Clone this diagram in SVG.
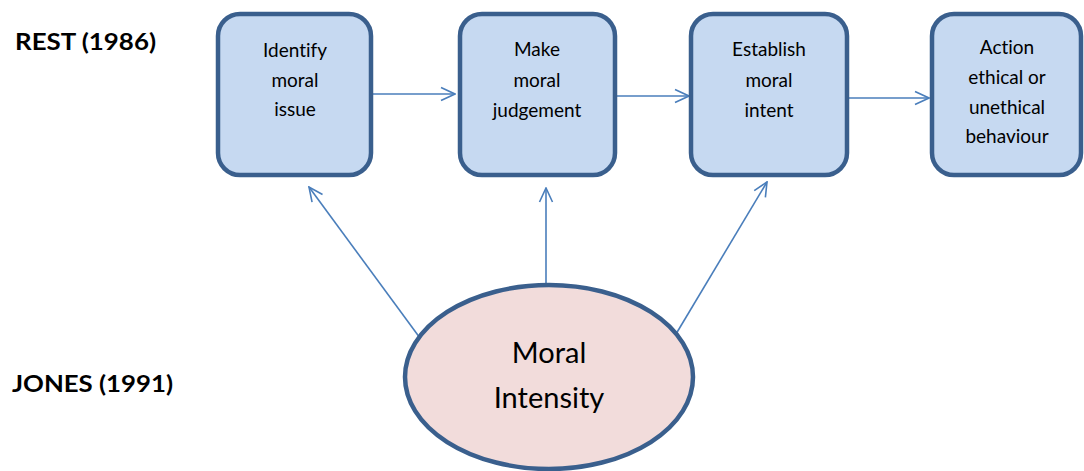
<svg xmlns="http://www.w3.org/2000/svg" width="1084" height="471" viewBox="0 0 1084 471">
<style>
.box{fill:#c6d9f1;stroke:#3a5f8d;stroke-width:4.5}
.ell{fill:#f2dcdb;stroke:#3a5f8d;stroke-width:4.5}
text{font-family:Lato,"Open Sans","Liberation Sans",sans-serif;font-variant-ligatures:none;fill:#000}
.t{font-size:19px;text-anchor:middle}
.big{font-size:29px;text-anchor:middle}
.lab{font-size:23px;font-weight:bold}
.c{stroke:#4a7ebb;stroke-width:1.6;fill:none;marker-end:url(#ah)}
</style>
<defs>
<marker id="ah" viewBox="0 0 16 16" refX="15" refY="8" markerWidth="16" markerHeight="16" markerUnits="userSpaceOnUse" orient="auto">
<path d="M1,1.5 L15,8 L1,14.5" fill="none" stroke="#4a7ebb" stroke-width="1.6"/>
</marker>
</defs>
<text class="lab" x="15" y="50" textLength="141" lengthAdjust="spacingAndGlyphs">REST (1986)</text>
<text class="lab" x="12" y="392" textLength="161" lengthAdjust="spacingAndGlyphs">JONES (1991)</text>
<g id="connectors">
<line class="c" x1="373" y1="94" x2="455" y2="94"/>
<line class="c" x1="616" y1="96" x2="689" y2="96"/>
<line class="c" x1="848" y1="98" x2="929" y2="98"/>
<line class="c" x1="420" y1="338" x2="309" y2="187"/>
<line class="c" x1="546" y1="290" x2="546" y2="188"/>
<line class="c" x1="676" y1="334" x2="767" y2="182"/>
</g>
<g id="n1">
<rect class="box" x="218" y="14" width="153" height="161" rx="22"/>
<text class="t" x="295" y="57">Identify</text>
<text class="t" x="295" y="87">moral</text>
<text class="t" x="295" y="116">issue</text>
</g>
<g id="n2">
<rect class="box" x="460" y="14" width="155" height="161" rx="22"/>
<text class="t" x="537" y="56">Make</text>
<text class="t" x="537" y="87">moral</text>
<text class="t" x="537" y="117">judgement</text>
</g>
<g id="n3">
<rect class="box" x="691" y="14" width="156" height="161" rx="22"/>
<text class="t" x="769" y="56">Establish</text>
<text class="t" x="769" y="87">moral</text>
<text class="t" x="769" y="117">intent</text>
</g>
<g id="n4">
<rect class="box" x="932" y="14" width="149" height="161" rx="22"/>
<text class="t" x="1007" y="54">Action</text>
<text class="t" x="1007" y="84">ethical or</text>
<text class="t" x="1007" y="114">unethical</text>
<text class="t" x="1007" y="143">behaviour</text>
</g>
<g id="n5">
<ellipse class="ell" cx="549" cy="377" rx="144" ry="92"/>
<text class="big" x="549" y="363">Moral</text>
<text class="big" x="549" y="408">Intensity</text>
</g>
</svg>
